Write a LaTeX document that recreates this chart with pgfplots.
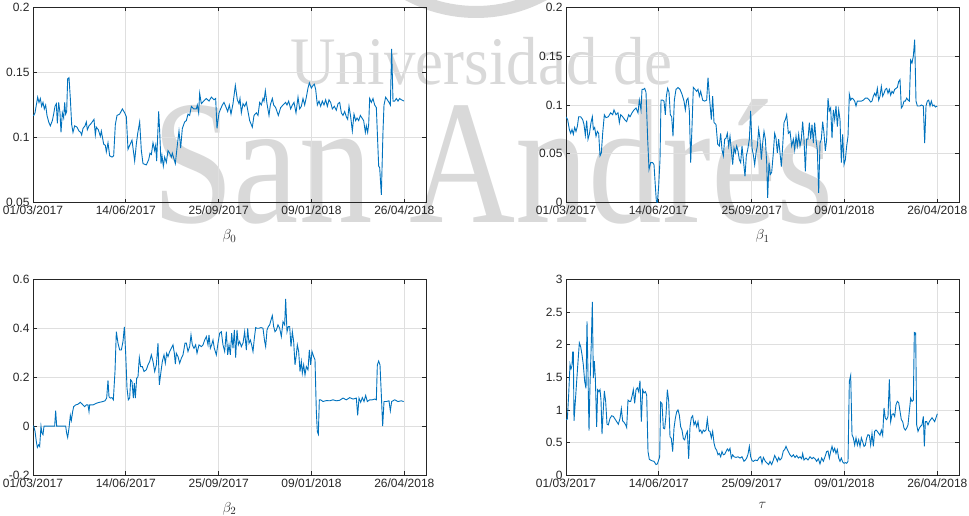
\documentclass[border=0pt]{standalone}
\usepackage{pgfplots}
\pgfplotsset{compat=1.18}
\usepackage{fontspec}
\setmainfont{Liberation Sans}
\newfontfamily\wmfont{Liberation Serif}
\definecolor{mblue}{rgb}{0,0.447,0.741}
\definecolor{axgray}{HTML}{262626}
\definecolor{grd}{HTML}{DFDFDF}
\definecolor{wm}{HTML}{D9D9D9}
\pgfplotsset{
 mystyle/.style={
  scale only axis, width=393pt, height=195.4pt, anchor=south west,
  axis line style={draw=axgray, line width=0.8pt},
  tick style={draw=axgray, line width=0.8pt},
  major tick length=4pt,
  grid=major, major grid style={draw=grd, line width=0.8pt},
  ticklabel style={font=\fontsize{12}{14}\selectfont, text=axgray},
  xlabel style={font=\fontsize{15}{17}\selectfont, text=axgray, yshift=-8pt},
  xticklabels={01/03/2017,14/06/2017,25/09/2017,09/01/2018,26/04/2018},
  scaled y ticks=false,
 },
 leftx/.style={xmin=100,xmax=1279, xtick={100,378.5,657,935.5,1214}},
 rightx/.style={xmin=258,xmax=1437, xtick={258,536.5,815,1093.5,1372}},
 ser/.style={color=mblue, line width=0.9pt, mark=none},
}
\begin{document}
\begin{tikzpicture}
\useasboundingbox (0pt,0pt) rectangle (969pt,515pt);
% watermark
\draw[wm, line width=12pt] (476pt,646pt) ++(235:143pt) arc[start angle=235, end angle=305, radius=143pt];
\node[anchor=base west, inner sep=0, text=wm, font=\wmfont\fontsize{68}{68}\selectfont, xscale=0.925] at (290pt,430pt) {Universidad de};
\node[anchor=base west, inner sep=0, text=wm, font=\wmfont\fontsize{177}{177}\selectfont, xscale=0.83] at (152pt,293pt) {San Andrés};

% beta0
\begin{axis}[mystyle, leftx, at={(33pt,312.3pt)}, ymin=0.05, ymax=0.2,
  ytick={0.05,0.1,0.15,0.2}, yticklabels={0.05,0.1,0.15,0.2}, xlabel={$\beta_0$}]
\addplot[ser] coordinates {(100,0.117)(102,0.117)(106,0.119)(110,0.125)(114,0.131)(118,0.127)(122,0.130)(126,0.124)(130,0.127)(134,0.122)(138,0.125)(142,0.117)(147,0.112)(152,0.109)(158,0.113)(162,0.118)(166,0.124)(170,0.126)(173,0.111)(177,0.127)(181,0.119)(184,0.104)(188,0.119)(192,0.115)(195,0.127)(198,0.118)(201,0.120)(204,0.145)(208,0.146)(212,0.130)(216,0.110)(220,0.104)(225,0.109)(232,0.108)(238,0.105)(243,0.104)(246,0.102)(250,0.107)(256,0.109)(260,0.112)(263,0.106)(268,0.109)(275,0.111)(283,0.114)(287,0.102)(290,0.108)(296,0.106)(302,0.101)(305,0.105)(312,0.095)(317,0.094)(320,0.089)(325,0.096)(330,0.086)(337,0.085)(342,0.086)(347,0.110)(352,0.117)(360,0.118)(368,0.122)(375,0.119)(380,0.116)(385,0.091)(390,0.094)(397,0.098)(405,0.082)(410,0.095)(414,0.103)(420,0.112)(425,0.090)(430,0.080)(440,0.079)(447,0.083)(451,0.088)(455,0.087)(460,0.096)(465,0.090)(468,0.094)(471,0.082)(477,0.120)(480,0.105)(484,0.080)(487,0.086)(491,0.078)(495,0.085)(500,0.081)(505,0.090)(510,0.088)(515,0.085)(518,0.088)(527,0.080)(532,0.092)(538,0.105)(543,0.092)(548,0.107)(555,0.112)(560,0.113)(565,0.118)(570,0.117)(575,0.124)(582,0.122)(590,0.122)(593,0.125)(597,0.119)(600,0.134)(605,0.126)(612,0.128)(620,0.130)(628,0.128)(635,0.131)(643,0.129)(648,0.130)(652,0.107)(658,0.119)(663,0.122)(668,0.125)(673,0.127)(678,0.124)(684,0.120)(689,0.125)(694,0.118)(700,0.126)(707,0.140)(713,0.129)(718,0.126)(721,0.130)(725,0.119)(730,0.126)(735,0.124)(740,0.127)(745,0.120)(750,0.113)(758,0.108)(763,0.117)(770,0.119)(775,0.117)(780,0.127)(785,0.125)(790,0.130)(793,0.128)(797,0.136)(802,0.126)(808,0.117)(812,0.125)(818,0.130)(822,0.125)(828,0.123)(832,0.120)(836,0.117)(843,0.123)(850,0.125)(858,0.127)(862,0.125)(867,0.128)(873,0.122)(878,0.125)(883,0.127)(889,0.119)(895,0.131)(900,0.122)(905,0.124)(910,0.130)(915,0.125)(920,0.131)(925,0.138)(929,0.142)(935,0.138)(940,0.140)(944,0.141)(948,0.137)(953,0.125)(958,0.128)(963,0.124)(968,0.128)(973,0.125)(978,0.129)(983,0.124)(988,0.129)(993,0.127)(998,0.122)(1004,0.124)(1010,0.121)(1015,0.126)(1020,0.127)(1025,0.119)(1030,0.117)(1035,0.120)(1040,0.116)(1044,0.114)(1048,0.124)(1053,0.116)(1058,0.105)(1063,0.118)(1068,0.113)(1072,0.115)(1077,0.113)(1082,0.117)(1087,0.115)(1092,0.113)(1097,0.104)(1100,0.109)(1104,0.104)(1107,0.110)(1110,0.130)(1115,0.127)(1120,0.130)(1125,0.125)(1130,0.123)(1137,0.078)(1140,0.077)(1145,0.056)(1150,0.105)(1153,0.125)(1158,0.131)(1163,0.129)(1168,0.127)(1172,0.125)(1176,0.168)(1180,0.128)(1185,0.128)(1190,0.130)(1195,0.128)(1200,0.130)(1205,0.129)(1213,0.128)};
\end{axis}

% beta1
\begin{axis}[mystyle, rightx, at={(566pt,312.3pt)}, ymin=0, ymax=0.2,
  ytick={0,0.05,0.1,0.15,0.2}, yticklabels={0,0.05,0.1,0.15,0.2}, xlabel={$\beta_1$}]
\addplot[ser] coordinates {(258,0.088)(263,0.085)(268,0.075)(272,0.071)(276,0.075)(280,0.070)(284,0.077)(288,0.073)(292,0.078)(296,0.088)(302,0.088)(308,0.085)(312,0.080)(316,0.069)(320,0.084)(324,0.065)(328,0.070)(333,0.082)(337,0.088)(340,0.075)(344,0.077)(348,0.068)(352,0.073)(356,0.071)(360,0.048)(364,0.051)(368,0.071)(373,0.090)(378,0.087)(385,0.088)(392,0.092)(398,0.090)(402,0.095)(408,0.090)(414,0.092)(418,0.082)(422,0.090)(428,0.088)(434,0.085)(440,0.083)(446,0.090)(450,0.088)(456,0.092)(462,0.095)(468,0.097)(474,0.092)(478,0.105)(483,0.095)(486,0.116)(490,0.116)(494,0.117)(498,0.113)(503,0.065)(507,0.034)(512,0.041)(518,0.041)(522,0.039)(526,0.017)(529,0.002)(532,0.000)(536,0.017)(540,0.044)(543,0.105)(548,0.105)(552,0.104)(556,0.090)(559,0.109)(563,0.117)(567,0.113)(571,0.090)(575,0.088)(579,0.068)(583,0.105)(588,0.116)(594,0.118)(600,0.116)(606,0.111)(612,0.104)(616,0.095)(620,0.105)(624,0.107)(628,0.094)(632,0.041)(636,0.078)(640,0.118)(645,0.116)(650,0.114)(654,0.116)(658,0.109)(662,0.114)(668,0.105)(674,0.104)(680,0.105)(684,0.128)(689,0.105)(694,0.085)(698,0.109)(702,0.082)(708,0.080)(713,0.060)(718,0.058)(722,0.071)(726,0.054)(730,0.048)(734,0.065)(738,0.066)(742,0.071)(746,0.058)(750,0.068)(754,0.054)(758,0.039)(762,0.056)(766,0.051)(770,0.058)(774,0.053)(778,0.044)(782,0.041)(786,0.058)(790,0.044)(795,0.027)(799,0.048)(803,0.054)(808,0.065)(812,0.094)(816,0.056)(820,0.049)(824,0.039)(828,0.051)(832,0.058)(836,0.075)(840,0.065)(844,0.044)(848,0.061)(852,0.073)(856,0.065)(860,0.041)(863,0.005)(867,0.041)(871,0.029)(875,0.031)(880,0.051)(884,0.071)(888,0.066)(892,0.051)(896,0.065)(900,0.051)(904,0.037)(908,0.058)(912,0.082)(916,0.085)(920,0.090)(925,0.071)(930,0.073)(935,0.058)(940,0.065)(944,0.054)(948,0.068)(952,0.058)(956,0.070)(960,0.058)(964,0.065)(968,0.083)(972,0.065)(976,0.032)(980,0.065)(984,0.065)(988,0.082)(992,0.065)(996,0.080)(1000,0.061)(1004,0.082)(1008,0.065)(1012,0.054)(1016,0.010)(1020,0.061)(1024,0.065)(1028,0.083)(1032,0.071)(1036,0.053)(1040,0.065)(1044,0.107)(1048,0.094)(1052,0.097)(1056,0.066)(1060,0.095)(1064,0.085)(1068,0.099)(1072,0.078)(1076,0.095)(1080,0.085)(1084,0.041)(1088,0.070)(1092,0.039)(1096,0.044)(1100,0.058)(1104,0.068)(1108,0.111)(1112,0.105)(1116,0.107)(1120,0.106)(1124,0.104)(1128,0.099)(1132,0.104)(1138,0.104)(1144,0.104)(1150,0.105)(1156,0.107)(1162,0.107)(1168,0.105)(1172,0.103)(1176,0.104)(1180,0.109)(1184,0.112)(1188,0.109)(1192,0.117)(1196,0.105)(1200,0.109)(1204,0.119)(1208,0.109)(1212,0.112)(1216,0.116)(1220,0.117)(1224,0.112)(1228,0.116)(1232,0.110)(1236,0.114)(1240,0.112)(1244,0.116)(1248,0.117)(1252,0.118)(1256,0.124)(1260,0.126)(1264,0.097)(1268,0.099)(1272,0.104)(1276,0.104)(1280,0.107)(1284,0.105)(1288,0.104)(1292,0.146)(1296,0.143)(1300,0.150)(1304,0.167)(1308,0.104)(1312,0.099)(1316,0.099)(1320,0.099)(1324,0.100)(1330,0.099)(1334,0.061)(1338,0.099)(1342,0.104)(1346,0.105)(1350,0.099)(1354,0.104)(1358,0.099)(1362,0.100)(1366,0.098)(1372,0.099)};
\end{axis}

% beta2
\begin{axis}[mystyle, leftx, at={(33pt,40pt)}, height=195.3pt, ymin=-0.2, ymax=0.6,
  ytick={-0.2,0,0.2,0.4,0.6}, yticklabels={-0.2,0,0.2,0.4,0.6}, xlabel={$\beta_2$}]
\addplot[ser] coordinates {(100,0.0)(102,0.0)(106,-0.02)(110,-0.063)(113,-0.087)(117,-0.076)(120,-0.083)(124,0.0)(127,-0.029)(130,-0.035)(133,0.0)(140,0.0)(150,0.0)(160,0.0)(165,0.0)(168,0.064)(171,0.0)(180,0.0)(190,0.0)(198,0.0)(201,-0.029)(204,-0.046)(208,-0.008)(212,0.044)(215,0.023)(219,0.060)(222,0.080)(228,0.087)(235,0.090)(242,0.098)(248,0.090)(255,0.080)(260,0.087)(265,0.087)(268,0.060)(270,0.087)(280,0.087)(290,0.094)(300,0.098)(310,0.101)(316,0.104)(321,0.115)(325,0.188)(328,0.121)(332,0.115)(337,0.117)(341,0.108)(346,0.224)(350,0.387)(355,0.340)(360,0.312)(365,0.312)(370,0.347)(374,0.407)(378,0.299)(382,0.156)(386,0.108)(390,0.115)(393,0.190)(397,0.183)(401,0.115)(404,0.176)(407,0.115)(411,0.196)(415,0.203)(419,0.281)(423,0.244)(428,0.244)(433,0.224)(440,0.231)(445,0.251)(450,0.265)(455,0.292)(460,0.265)(465,0.224)(470,0.251)(475,0.340)(479,0.169)(484,0.224)(488,0.265)(493,0.292)(497,0.258)(501,0.299)(505,0.285)(510,0.306)(515,0.319)(520,0.333)(524,0.299)(527,0.254)(530,0.299)(535,0.285)(540,0.258)(545,0.278)(550,0.292)(556,0.340)(560,0.340)(565,0.306)(570,0.326)(574,0.374)(578,0.333)(583,0.319)(588,0.333)(592,0.299)(598,0.333)(605,0.326)(610,0.333)(615,0.353)(620,0.367)(625,0.333)(628,0.374)(632,0.319)(636,0.333)(640,0.353)(644,0.319)(650,0.292)(655,0.340)(660,0.381)(665,0.387)(670,0.333)(675,0.306)(680,0.387)(684,0.292)(688,0.333)(692,0.292)(696,0.381)(700,0.319)(704,0.394)(708,0.281)(712,0.394)(716,0.333)(720,0.347)(725,0.326)(730,0.340)(735,0.387)(740,0.312)(744,0.401)(748,0.340)(752,0.353)(756,0.333)(760,0.306)(764,0.360)(768,0.404)(772,0.401)(778,0.401)(784,0.404)(790,0.401)(795,0.347)(798,0.326)(802,0.394)(806,0.408)(810,0.415)(814,0.435)(818,0.453)(822,0.408)(826,0.387)(830,0.394)(835,0.415)(840,0.401)(845,0.367)(850,0.428)(855,0.415)(858,0.521)(862,0.387)(866,0.408)(870,0.408)(874,0.326)(878,0.387)(882,0.347)(886,0.251)(890,0.292)(893,0.333)(897,0.306)(901,0.224)(905,0.265)(908,0.217)(912,0.251)(916,0.210)(920,0.244)(925,0.231)(929,0.312)(933,0.251)(937,0.306)(942,0.285)(946,0.272)(950,0.060)(953,-0.022)(956,-0.033)(959,0.108)(963,0.108)(970,0.101)(980,0.105)(990,0.104)(1000,0.108)(1010,0.104)(1020,0.106)(1030,0.115)(1040,0.108)(1050,0.117)(1060,0.111)(1070,0.115)(1074,0.044)(1078,0.115)(1083,0.098)(1088,0.117)(1093,0.101)(1098,0.126)(1103,0.101)(1110,0.108)(1118,0.108)(1125,0.111)(1130,0.108)(1133,0.251)(1137,0.267)(1141,0.251)(1145,0.128)(1149,0.0)(1153,0.101)(1160,0.101)(1168,0.104)(1172,0.063)(1176,0.101)(1185,0.108)(1195,0.101)(1205,0.104)(1212,0.101)};
\end{axis}

% tau
\begin{axis}[mystyle, rightx, at={(566pt,40pt)}, height=195.3pt, ymin=0, ymax=3,
  ytick={0,0.5,1,1.5,2,2.5,3}, yticklabels={0,0.5,1,1.5,2,2.5,3}, xlabel={$\tau$}]
\addplot[ser] coordinates {(258,0.85)(262,0.86)(266,1.23)(270,1.70)(273,1.63)(276,1.68)(278,1.89)(280,1.89)(282,0.83)(286,1.13)(290,1.44)(294,1.74)(298,2.03)(302,1.97)(306,1.85)(310,1.69)(314,1.44)(318,1.33)(321,2.36)(324,1.54)(327,0.68)(330,1.38)(334,2.05)(337,2.66)(340,1.49)(343,1.75)(346,1.49)(350,0.74)(353,1.31)(357,1.28)(360,1.31)(363,1.15)(366,0.63)(369,0.92)(373,1.29)(377,1.13)(381,0.78)(385,0.77)(390,0.87)(395,0.91)(400,0.90)(405,0.86)(410,0.82)(415,0.78)(420,0.87)(424,1.02)(428,0.83)(432,0.81)(437,0.77)(440,0.73)(444,1.15)(448,1.13)(452,1.13)(456,1.21)(460,1.31)(464,1.10)(468,1.31)(472,1.34)(476,1.28)(480,1.45)(484,0.82)(488,1.31)(492,1.26)(496,1.28)(500,1.23)(504,0.36)(508,0.24)(515,0.22)(522,0.21)(528,0.16)(532,0.17)(536,0.23)(539,0.28)(542,1.12)(546,1.10)(550,0.72)(554,0.71)(558,0.92)(562,1.31)(566,1.14)(570,0.59)(574,0.56)(578,0.36)(582,0.72)(586,0.87)(590,0.97)(594,1.00)(598,0.92)(602,0.74)(606,0.69)(610,0.56)(614,0.54)(618,0.62)(622,0.67)(626,0.25)(630,0.74)(634,0.88)(638,0.91)(642,0.77)(646,0.82)(650,0.74)(654,0.82)(658,0.67)(662,0.69)(666,0.64)(670,0.69)(674,0.67)(678,0.69)(682,0.86)(686,0.68)(690,0.67)(694,0.57)(698,0.67)(702,0.49)(706,0.41)(710,0.38)(714,0.31)(718,0.33)(722,0.28)(726,0.36)(730,0.31)(734,0.32)(738,0.36)(742,0.40)(746,0.37)(750,0.41)(754,0.26)(758,0.31)(762,0.28)(768,0.27)(774,0.28)(780,0.26)(786,0.28)(792,0.21)(796,0.23)(800,0.26)(804,0.32)(808,0.44)(812,0.28)(816,0.22)(820,0.21)(826,0.23)(832,0.22)(838,0.27)(842,0.28)(846,0.18)(850,0.27)(856,0.21)(862,0.18)(866,0.16)(870,0.21)(875,0.16)(880,0.23)(884,0.30)(888,0.26)(892,0.21)(896,0.27)(900,0.23)(905,0.26)(910,0.37)(914,0.39)(918,0.44)(922,0.39)(926,0.35)(930,0.31)(935,0.28)(940,0.31)(945,0.27)(950,0.30)(955,0.26)(960,0.28)(965,0.25)(968,0.33)(972,0.23)(978,0.26)(984,0.23)(990,0.28)(996,0.25)(1000,0.27)(1005,0.25)(1010,0.21)(1015,0.25)(1020,0.17)(1025,0.26)(1030,0.21)(1035,0.28)(1040,0.36)(1044,0.37)(1048,0.26)(1052,0.36)(1056,0.44)(1060,0.36)(1064,0.41)(1068,0.33)(1072,0.39)(1076,0.26)(1080,0.21)(1084,0.26)(1088,0.20)(1092,0.18)(1096,0.19)(1100,0.18)(1104,0.21)(1108,1.44)(1112,1.53)(1116,0.62)(1120,0.57)(1124,0.46)(1128,0.57)(1132,0.46)(1136,0.54)(1140,0.44)(1144,0.57)(1148,0.51)(1152,0.44)(1156,0.46)(1160,0.57)(1164,0.62)(1168,0.61)(1172,0.46)(1176,0.64)(1180,0.44)(1184,0.67)(1188,0.69)(1192,0.67)(1196,0.64)(1200,0.61)(1204,0.69)(1208,0.61)(1212,1.03)(1216,0.87)(1220,0.85)(1224,0.90)(1228,1.47)(1232,0.82)(1236,0.93)(1240,0.94)(1244,0.90)(1248,1.08)(1252,1.13)(1256,1.11)(1260,0.98)(1264,0.85)(1268,0.82)(1272,0.72)(1276,0.69)(1280,0.72)(1284,0.77)(1288,0.98)(1292,1.18)(1296,1.13)(1300,1.15)(1303,2.19)(1307,2.18)(1310,0.77)(1314,0.67)(1318,0.72)(1322,0.75)(1326,0.77)(1330,0.90)(1333,0.44)(1336,0.82)(1340,0.82)(1344,0.77)(1348,0.82)(1352,0.85)(1356,0.88)(1360,0.85)(1364,0.82)(1368,0.88)(1372,0.94)};
\end{axis}
\end{tikzpicture}
\end{document}
